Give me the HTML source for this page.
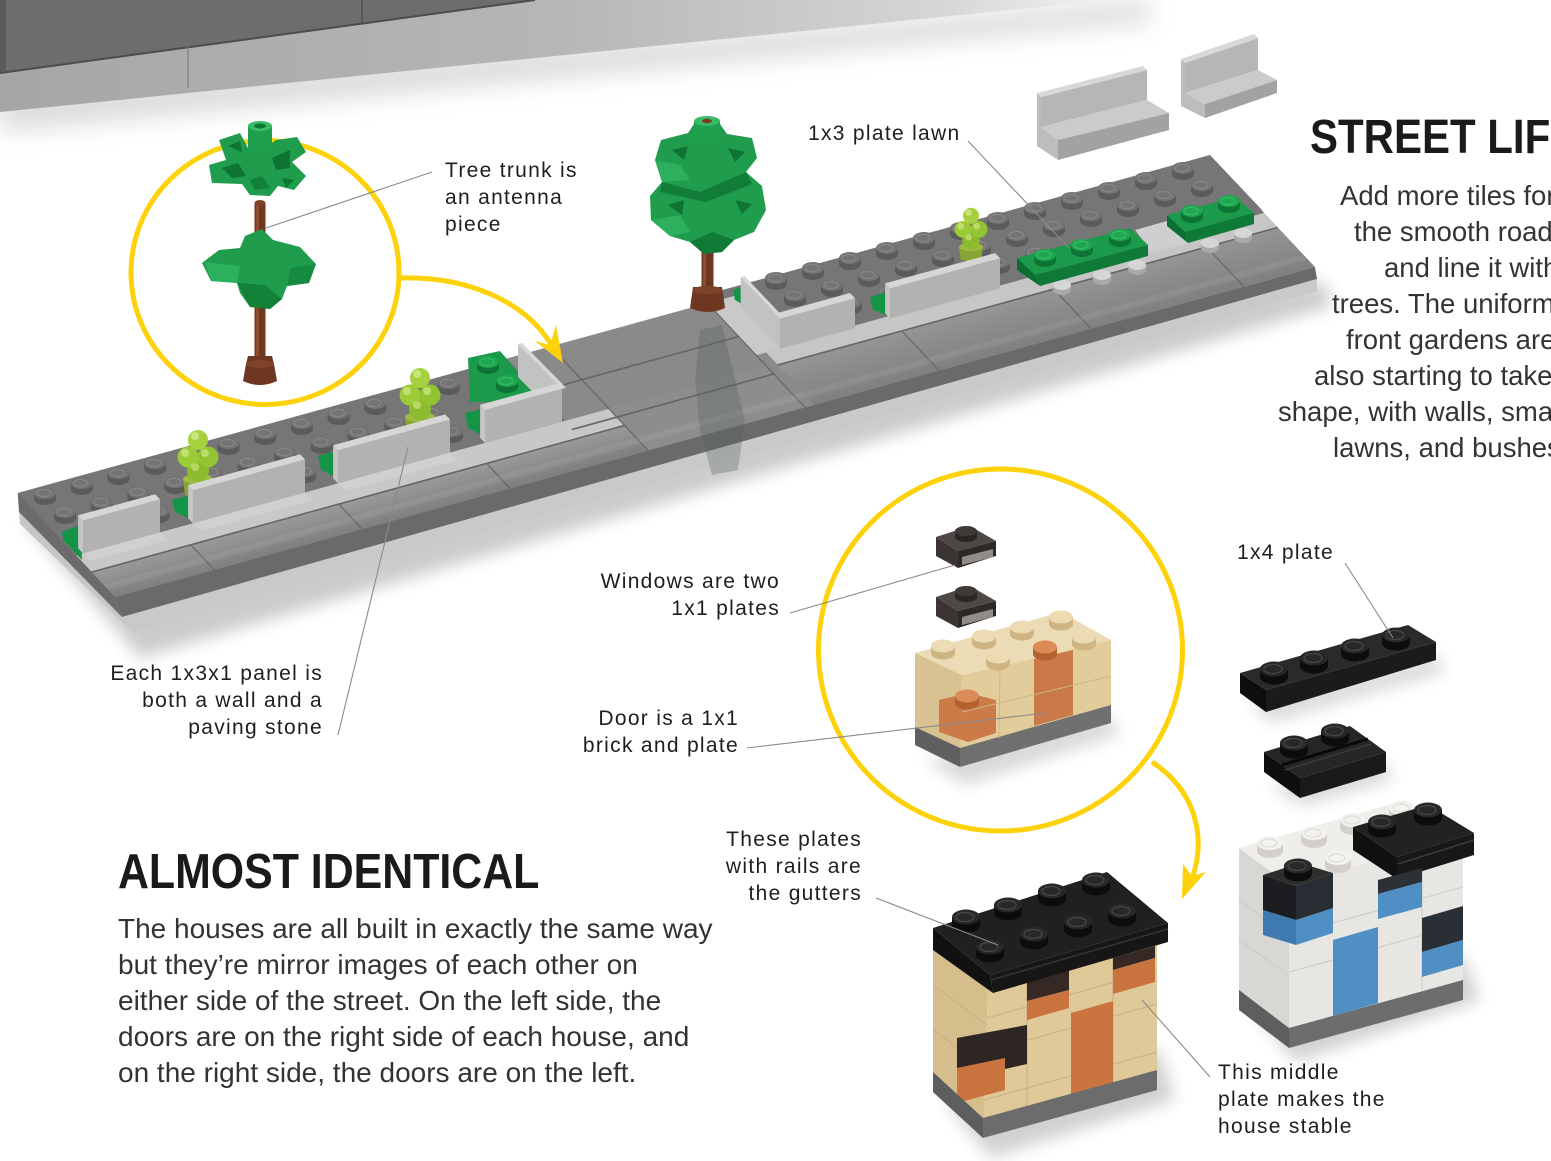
<!DOCTYPE html>
<html><head><meta charset="utf-8"><title>Street Life</title>
<style>
html,body{margin:0;padding:0;background:#fff}
body{width:1551px;height:1161px;overflow:hidden}
svg{display:block}
.l{font-family:"Liberation Sans",Arial,sans-serif;font-size:21px;letter-spacing:1.3px;fill:#1e1e1e}
.p{font-family:"Liberation Sans",Arial,sans-serif;font-size:27.5px;fill:#333}
.q{font-family:"Liberation Sans",Arial,sans-serif;font-size:28px;fill:#333}
.h{font-family:"Liberation Sans",Arial,sans-serif;font-weight:bold;fill:#1a1a1a}
</style></head><body>
<svg width="1551" height="1161" viewBox="0 0 1551 1161">
<defs>
<linearGradient id="topfade" x1="0" y1="0" x2="1" y2="0">
<stop offset="0" stop-color="#a6a6a6"/><stop offset="0.5" stop-color="#b6b6b6"/><stop offset="0.85" stop-color="#d6d6d6"/><stop offset="1" stop-color="#f3f3f3"/>
</linearGradient>
<linearGradient id="tileL" gradientUnits="userSpaceOnUse" x1="0" y1="76" x2="0" y2="100">
<stop offset="0" stop-color="#9a9a9a"/><stop offset="1" stop-color="#7f7f7f"/>
</linearGradient>
<linearGradient id="tileR" gradientUnits="userSpaceOnUse" x1="0" y1="62" x2="0" y2="100">
<stop offset="0" stop-color="#959595"/><stop offset="1" stop-color="#808080"/>
</linearGradient>
<filter id="b8" x="-20%" y="-50%" width="140%" height="200%"><feGaussianBlur stdDeviation="8"/></filter>
<filter id="b12" x="-20%" y="-50%" width="140%" height="200%"><feGaussianBlur stdDeviation="12"/></filter>
<g id="sg"><path d="M-11,0v6a11,6 0 0 0 22,0v-6z" fill="#5b5b5b"/><ellipse rx="11" ry="6" fill="#747474"/><ellipse cx="-1" rx="7" ry="3.6" fill="none" stroke="#878787" stroke-width="1.2"/></g>
<g id="sl"><path d="M-9,0v5a9,5 0 0 0 18,0v-5z" fill="#a9a9a9"/><ellipse rx="9" ry="5" fill="#d6d6d6"/></g>
<g id="sgr"><path d="M-11,0v6a11,6 0 0 0 22,0v-6z" fill="#0d7435"/><ellipse rx="11" ry="6" fill="#1ea550"/><ellipse cx="-1" rx="7" ry="3.6" fill="none" stroke="#33bb66" stroke-width="1.2"/></g>
<g id="sb"><path d="M-14,0v8a14,7.5 0 0 0 28,0v-8z" fill="#0c0c0c"/><ellipse rx="14" ry="7.5" fill="#282828"/><ellipse cx="-1" rx="9" ry="4.5" fill="none" stroke="#474747" stroke-width="1.3"/></g>
<g id="st"><path d="M-12,0v7a12,6.5 0 0 0 24,0v-7z" fill="#cdb482"/><ellipse rx="12" ry="6.5" fill="#eddcb3"/></g>
<g id="sw"><path d="M-13,0v8a13,7 0 0 0 26,0v-8z" fill="#d3d0cb"/><ellipse rx="13" ry="7" fill="#f4f2ef"/><ellipse cx="-1" rx="8" ry="4" fill="none" stroke="#dfdcd7" stroke-width="1.2"/></g>
<g id="so"><path d="M-12,0v7a12,6.5 0 0 0 24,0v-7z" fill="#b2612f"/><ellipse rx="12" ry="6.5" fill="#da8b58"/></g>
<g id="bush">
<rect x="-8" y="62" width="16" height="12" fill="#6b3520"/>
<path d="M-15,50 L15,50 L13,66 Q0,70 -13,66 Z" fill="#86a534"/>
<ellipse cx="0" cy="50" rx="15" ry="5" fill="#9dbb45"/>
<circle cx="0" cy="42" r="11" fill="#8cbc2e"/>
<circle cx="-10" cy="28" r="10.5" fill="#9ccb38"/>
<circle cx="10" cy="28" r="10.5" fill="#92c433"/>
<circle cx="0" cy="11" r="10" fill="#a5d13f"/>
<circle cx="-3" cy="7" r="4" fill="#c9e67a"/>
<circle cx="-13" cy="24" r="4" fill="#c2e070"/>
<circle cx="7" cy="24" r="4" fill="#bddd6a"/>
<circle cx="-3" cy="38" r="4" fill="#b7d864"/>
</g>
</defs>

<!-- top plate band -->
<polygon points="0,95 1150,0 1150,22 0,132" fill="#9a9a9a" opacity="0.35" filter="url(#b12)"/>
<polygon points="0,0 1110,0 0,112" fill="url(#topfade)"/>
<polygon points="0,0 535,0 0,73" fill="#6d6d6d"/>
<line x1="0" y1="73" x2="535" y2="0" stroke="#4c4c4c" stroke-width="2"/>
<line x1="188" y1="47" x2="188" y2="88" stroke="#7e7e7e" stroke-width="1.2"/>
<line x1="362" y1="0" x2="362" y2="24" stroke="#474747" stroke-width="1.2"/>
<rect x="0" y="0" width="6" height="72" fill="#5a5a5a"/>

<!-- floating panels -->
<polygon points="1041,97 1147,70 1147,100 1041,127" fill="#b6b6b6"/>
<polygon points="1041,97 1147,70 1143,66 1037,93" fill="#d8d8d8"/>
<polygon points="1041,127 1147,100 1169,113 1058,140" fill="#cbcbcb"/>
<polygon points="1058,140 1169,113 1169,130 1058,160" fill="#a2a2a2"/>
<polygon points="1037,93 1041,97 1041,127 1058,140 1058,160 1037,146" fill="#bdbdbd"/>
<polygon points="1185,63 1258,38 1258,70 1185,93" fill="#b6b6b6"/>
<polygon points="1185,63 1258,38 1254,34 1181,59" fill="#d8d8d8"/>
<polygon points="1185,93 1258,70 1277,80 1205,104" fill="#cbcbcb"/>
<polygon points="1205,104 1277,80 1277,93 1205,118" fill="#a2a2a2"/>
<polygon points="1181,59 1185,63 1185,93 1205,104 1205,118 1181,106" fill="#bdbdbd"/>

<!-- street slab -->
<polygon points="25,522 1325,282 1332,306 140,658" fill="#000" opacity="0.2" filter="url(#b8)"/>
<polygon points="19,512 122,617 133,632 20,524" fill="#c6c6c6"/>
<polygon points="17.75,493 82,558 115,597 122,617 19,512" fill="#6b6b6b"/>
<polygon points="115,597 1315,267 1317,279 122,617" fill="#6a6a6a"/>
<polygon points="122,617 1317,279 1317,291 133,632" fill="#c9c9c9"/>
<polygon points="17.75,493 1217,163 1315,267 115,597" fill="#8a8a8a"/>
<polygon points="708,294 1210,155 1262,210 760,350" fill="#767676"/>
<g transform="matrix(0.9996 -0.275 0.975 1.04 17.75 493)">
<rect x="0" y="0" width="488" height="60" fill="#767676"/>
<rect x="0" y="60" width="560" height="16" fill="#c8c8c8"/>
<rect x="0" y="76" width="533" height="24" fill="url(#tileL)"/>
<rect x="533" y="60" width="157" height="40" fill="#8d8d8d"/>
<rect x="690" y="0" width="45" height="50" fill="#c9c9c9"/>
<rect x="735" y="0" width="465" height="48" fill="#767676"/>
<rect x="700" y="48" width="500" height="14" fill="#c6c6c6"/>
<rect x="700" y="62" width="500" height="38" fill="url(#tileR)"/>
<path d="M99,76V100M247,76V100M395,76V100M533,0V100M488,32H690M488,68H690M690,0V100M0,76H533M700,62H1200M824,62V100M976,62V100M1129,62V100M488,0V60" stroke="#666" stroke-width="1.3" fill="none"/>
<rect x="0" y="88" width="1200" height="5" fill="#fff" opacity="0.07"/>
</g>
<path d="M700,330 L722,325 L735,380 L745,420 L738,470 L712,475 L700,430 L695,380 Z" fill="#4e5f55" opacity="0.3"/>

<!-- left studs -->
<use href="#sg" x="45" y="493"/><use href="#sg" x="81.7" y="483"/><use href="#sg" x="118.4" y="473"/><use href="#sg" x="155.1" y="463"/><use href="#sg" x="191.8" y="453"/><use href="#sg" x="228.5" y="443"/><use href="#sg" x="265.2" y="433"/><use href="#sg" x="301.9" y="423"/><use href="#sg" x="338.6" y="413"/><use href="#sg" x="375.3" y="403"/><use href="#sg" x="412" y="393"/><use href="#sg" x="448.7" y="383"/>
<use href="#sg" x="65" y="512"/><use href="#sg" x="101.7" y="502"/><use href="#sg" x="138.4" y="492"/><use href="#sg" x="175.1" y="482"/><use href="#sg" x="211.8" y="472"/><use href="#sg" x="248.5" y="462"/><use href="#sg" x="285.2" y="452"/><use href="#sg" x="321.9" y="442"/><use href="#sg" x="358.6" y="432"/><use href="#sg" x="395.3" y="422"/><use href="#sg" x="432" y="412"/>
<use href="#sg" x="85" y="531"/><use href="#sg" x="121.7" y="521"/><use href="#sg" x="158.4" y="511"/><use href="#sg" x="231.8" y="491"/><use href="#sg" x="268.5" y="481"/><use href="#sg" x="305.2" y="471"/><use href="#sg" x="341.9" y="461"/><use href="#sg" x="378.6" y="451"/><use href="#sg" x="452" y="431"/>
<!-- right studs -->
<use href="#sg" x="1183" y="168"/><use href="#sg" x="1146" y="178"/><use href="#sg" x="1109" y="188"/><use href="#sg" x="1072" y="198"/><use href="#sg" x="1035" y="208"/><use href="#sg" x="998" y="218"/><use href="#sg" x="961" y="228"/><use href="#sg" x="924" y="238"/><use href="#sg" x="887" y="248"/><use href="#sg" x="850" y="258"/><use href="#sg" x="813" y="268"/><use href="#sg" x="776" y="278"/>
<use href="#sg" x="1202" y="185"/><use href="#sg" x="1165" y="195"/><use href="#sg" x="1128" y="205"/><use href="#sg" x="1091" y="215"/><use href="#sg" x="1054" y="225"/><use href="#sg" x="1017" y="235"/><use href="#sg" x="980" y="245"/><use href="#sg" x="943" y="255"/><use href="#sg" x="906" y="265"/><use href="#sg" x="869" y="275"/><use href="#sg" x="832" y="285"/><use href="#sg" x="795" y="295"/>
<use href="#sg" x="1036" y="252"/><use href="#sg" x="999" y="262"/><use href="#sg" x="962" y="272"/><use href="#sg" x="925" y="282"/><use href="#sg" x="888" y="292"/><use href="#sg" x="851" y="302"/><use href="#sg" x="814" y="312"/>

<!-- light studs & green plates right -->
<use href="#sl" x="1062" y="285"/><use href="#sl" x="1102" y="275"/><use href="#sl" x="1137" y="265"/><use href="#sl" x="1210" y="243"/><use href="#sl" x="1243" y="233"/>
<polygon points="1135,230 1167,221 1188,243 1152,253" fill="#cfcfcf"/>
<polygon points="1017,258 1130,228 1148,245 1035,275" fill="#1c9a4c"/>
<polygon points="1035,275 1148,245 1148,256 1040,286" fill="#0f7a38"/>
<polygon points="1017,258 1035,275 1040,286 1017,270" fill="#0b6e33"/>
<use href="#sgr" x="1045" y="255"/><use href="#sgr" x="1082" y="245"/><use href="#sgr" x="1120" y="235"/>
<polygon points="1167,215 1236,197 1254,213 1185,232" fill="#1c9a4c"/>
<polygon points="1185,232 1254,213 1254,224 1188,243" fill="#0f7a38"/>
<polygon points="1167,215 1185,232 1188,243 1167,226" fill="#0b6e33"/>
<use href="#sgr" x="1192" y="211"/><use href="#sgr" x="1229" y="201"/>
<!-- green plate left near crossing -->
<polygon points="468,358 500,351 535,392 505,402 470,402" fill="#1c9a4c"/>
<use href="#sgr" x="488" y="362"/><use href="#sgr" x="507" y="381"/>
<!-- green gap tiles -->
<polygon points="62,532 80,525 82,560 63,540" fill="#149447"/>
<polygon points="172,500 190,495 192,520 175,512" fill="#149447"/>
<polygon points="318,456 336,451 338,478 321,470" fill="#149447"/>
<polygon points="465,413 482,409 484,436 468,428" fill="#149447"/>
<polygon points="870,297 887,292 889,316 873,310" fill="#149447"/>
<polygon points="733,290 742,287 744,305 735,300" fill="#149447"/>

<!-- bushes -->
<use href="#bush" transform="translate(198,429)"/>
<use href="#bush" transform="translate(420,367)"/>
<use href="#bush" transform="translate(971,207) scale(0.8)"/>

<!-- walls left -->
<g>
<polygon points="78.1,515.3 83,520.5 83,553.5 78.1,548.3" fill="#c6c6c6"/>
<polygon points="83,520.5 160,499.4 160,532.4 83,553.5" fill="#b2b2b2"/>
<polygon points="83,520.5 160,499.4 155.1,494.2 78.1,515.3" fill="#d6d6d6"/>
<polygon points="83,553.5 160,532.4 168,540 91,561" fill="#d0d0d0"/>
<polygon points="188.1,485.1 193,490.3 193,523.3 188.1,518.1" fill="#c6c6c6"/>
<polygon points="193,490.3 305,459.5 305,492.5 193,523.3" fill="#b2b2b2"/>
<polygon points="193,490.3 305,459.5 300.1,454.3 188.1,485.1" fill="#d6d6d6"/>
<polygon points="193,523.3 305,492.5 313,500 201,531" fill="#d0d0d0"/>
<polygon points="333.1,445.2 338,450.4 338,483.4 333.1,478.2" fill="#c6c6c6"/>
<polygon points="338,450.4 450,419.6 450,452.6 338,483.4" fill="#b2b2b2"/>
<polygon points="338,450.4 450,419.6 445.1,414.4 333.1,445.2" fill="#d6d6d6"/>
<polygon points="338,483.4 450,452.6 458,460 346,491" fill="#d0d0d0"/>
<polygon points="518,344 562,388.8 562,421.8 518,377" fill="#c2c2c2"/>
<polygon points="518,344 562,388.8 566,387.7 522,342.9" fill="#d8d8d8"/>
<polygon points="480.1,404.8 485,410 485,443 480.1,437.8" fill="#c6c6c6"/>
<polygon points="485,410 562,388.8 562,421.8 485,443" fill="#b2b2b2"/>
<polygon points="485,410 562,388.8 557.1,383.6 480.1,404.8" fill="#d6d6d6"/>
</g>
<!-- walls right -->
<g>
<polygon points="740.7,277.2 780,318.8 780,348.8 740.7,307.2" fill="#c2c2c2"/>
<polygon points="740.7,277.2 780,318.8 784,317.7 744.7,276.1" fill="#d8d8d8"/>
<polygon points="780,318.8 855,298.2 855,328.2 780,348.8" fill="#b2b2b2"/>
<polygon points="780,318.8 855,298.2 850.1,293 775.1,313.6" fill="#d6d6d6"/>
<polygon points="885.1,283.3 890,288.5 890,318.5 885.1,313.3" fill="#c6c6c6"/>
<polygon points="890,288.5 1000,258.3 1000,288.3 890,318.5" fill="#b2b2b2"/>
<polygon points="890,288.5 1000,258.3 995.1,253.1 885.1,283.3" fill="#d6d6d6"/>
</g>

<!-- tree 2 -->
<rect x="701.5" y="240" width="12" height="50" fill="#6e3721"/>
<rect x="703" y="240" width="3" height="48" fill="#8d4c2f"/>
<path d="M693,287 L722,287 L725,308 Q708,316 690,308 Z" fill="#6e3721"/>
<ellipse cx="707.5" cy="290" rx="15" ry="4" fill="#7f432a"/>
<path d="M661,140 L688,133 L694,124 L720,124 L727,134 L752,138 L757,158 L746,172 L762,186 L766,210 L754,232 L734,240 L722,252 L704,254 L690,242 L670,236 L651,220 L650,196 L662,182 L655,160 Z" fill="#1f9c4c"/>
<path d="M662,182 L700,192 L746,172 L752,184 L706,202 L660,192 Z" fill="#127d39"/>
<path d="M690,242 L704,254 L722,252 L734,240 L712,232 Z" fill="#117a36"/>
<path d="M655,160 L680,165 L690,180 L662,182 Z" fill="#2cb05d"/>
<path d="M651,220 L680,215 L690,232 L670,236 Z" fill="#2cb05d"/>
<path d="M672,150 L688,146 L684,160 Z M728,148 L745,152 L735,162 Z M668,205 L684,200 L682,215 Z M735,200 L752,204 L742,214 Z" fill="#0f7333"/>
<rect x="694" y="121" width="26" height="22" fill="#1fa04f"/>
<ellipse cx="707" cy="121" rx="13" ry="5" fill="#37bd66"/>
<ellipse cx="707" cy="121" rx="5" ry="2.2" fill="#7a3a20"/>

<!-- yellow circle 1 + arrow -->
<ellipse cx="265" cy="272.5" rx="134" ry="132" fill="none" stroke="#fdd20a" stroke-width="5"/>
<path d="M400,278 C465,276 525,300 552,346" fill="none" stroke="#fdd20a" stroke-width="5"/>
<polygon points="563,363 535,341 550,345 556,325" fill="#fdd20a"/>

<!-- tree 1 -->
<rect x="254.5" y="203" width="11" height="160" fill="#6e3721"/>
<rect x="256" y="205" width="3" height="155" fill="#8d4c2f"/>
<ellipse cx="260" cy="203" rx="5.5" ry="3" fill="#7e4128"/>
<path d="M248,356 L272,356 L274,364 L277,381 Q260,389 243,381 L246,364 Z" fill="#6e3721"/>
<ellipse cx="260" cy="364" rx="14" ry="4" fill="#7f432a"/>
<path d="M245,236 L262,229 L273,240 L300,247 L316,264 L309,283 L287,286 L282,299 L270,309 L250,307 L240,293 L237,283 L211,281 L202,263 L219,250 L240,248 Z" fill="#1f9c4c"/>
<path d="M237,283 L250,307 L270,309 L282,299 L265,285 Z" fill="#138238"/>
<path d="M211,281 L237,283 L240,266 L205,262 Z" fill="#2bb15e"/>
<path d="M287,286 L309,283 L316,264 L290,268 Z" fill="#168a3f"/>
<path d="M219,140 L240,133 L248,148 L262,150 L276,140 L297,137 L306,152 L292,162 L306,176 L294,190 L278,186 L270,196 L250,195 L242,184 L212,183 L209,165 L226,160 Z" fill="#1f9c4c"/>
<path d="M222,168 L238,163 L246,176 L232,178 Z" fill="#0f7333"/>
<path d="M272,158 L290,150 L290,168 L276,170 Z" fill="#0f7333"/>
<path d="M250,180 L262,176 L270,188 L255,190 Z" fill="#127f3a"/>
<path d="M228,146 L240,141 L242,152 Z M282,178 L294,180 L286,188 Z" fill="#0f7333"/>
<rect x="248" y="126" width="24" height="26" fill="#1fa04f"/>
<ellipse cx="260" cy="126" rx="12" ry="5" fill="#37bd66"/>
<ellipse cx="260" cy="126" rx="6" ry="2.5" fill="#0f7534"/>

<!-- yellow circle 2 + arrow -->
<ellipse cx="1000.5" cy="650" rx="182" ry="181" fill="none" stroke="#fdd20a" stroke-width="5"/>
<path d="M1152,762 C1195,790 1206,835 1193,876" fill="none" stroke="#fdd20a" stroke-width="5"/>
<polygon points="1182,899 1183,864 1192,876 1206,872" fill="#fdd20a"/>

<!-- small trans-black plates -->
<g>
<polygon points="936,537 958,551 958,568 936,556" fill="#3a3533"/>
<polygon points="958,551 996,541 996,556 958,568" fill="#2d2928"/>
<polygon points="962,557 993,549 993,557 962,565" fill="#aaa59f" opacity="0.8"/>
<polygon points="936,537 970,526 996,541 958,551" fill="#4d4745"/>
<path d="M955,531v6a11,5 0 0 0 22,0v-6z" fill="#2a2625"/><ellipse cx="966" cy="531" rx="11" ry="5" fill="#3f3a38"/>
</g>
<g transform="translate(0,60)">
<polygon points="936,537 958,551 958,568 936,556" fill="#3a3533"/>
<polygon points="958,551 996,541 996,556 958,568" fill="#2d2928"/>
<polygon points="962,557 993,549 993,557 962,565" fill="#aaa59f" opacity="0.8"/>
<polygon points="936,537 970,526 996,541 958,551" fill="#4d4745"/>
<path d="M955,531v6a11,5 0 0 0 22,0v-6z" fill="#2a2625"/><ellipse cx="966" cy="531" rx="11" ry="5" fill="#3f3a38"/>
</g>

<!-- tan assembly -->
<polygon points="925,760 1110,715 1120,735 965,785" fill="#000" opacity="0.15" filter="url(#b8)"/>
<polygon points="915,653 962,675 960,767 915,745" fill="#d9c291"/>
<polygon points="962,675 1111,640 1111,723 960,767" fill="#e2cc9c"/>
<polygon points="915,653 1061,612 1111,640 962,675" fill="#ecdcb5"/>
<polygon points="1034,659 1073,650 1073,715 1034,726" fill="#c97a48"/>
<polygon points="939,700 968,693 996,700 996,733 968,742 939,732" fill="#cc7a48"/>
<polygon points="915,727 960,748 960,767 915,745" fill="#5f5f5f"/>
<polygon points="960,748 1111,705 1111,723 960,767" fill="#707070"/>
<line x1="962" y1="712" x2="1111" y2="676" stroke="#cdb687" stroke-width="1"/>
<line x1="1000" y1="666" x2="999" y2="738" stroke="#cdb687" stroke-width="1"/>
<use href="#st" x="943" y="646"/><use href="#st" x="984" y="636"/><use href="#st" x="1022" y="627"/><use href="#st" x="1061" y="617"/>
<use href="#st" x="998" y="657"/><use href="#so" x="1045" y="647"/><use href="#st" x="1084" y="637"/>
<use href="#so" x="967" y="696"/>

<!-- 1x4 black plate -->
<polygon points="1250,705 1436,655 1445,672 1272,722" fill="#000" opacity="0.15" filter="url(#b8)"/>
<polygon points="1240,673 1266,690 1266,712 1240,693" fill="#0e0e0e"/>
<polygon points="1266,690 1436,642 1436,660 1266,712" fill="#1b1b1b"/>
<polygon points="1240,673 1408,625 1436,642 1266,690" fill="#2a2a2a"/>
<use href="#sb" x="1274" y="669"/><use href="#sb" x="1314" y="658"/><use href="#sb" x="1355" y="646"/><use href="#sb" x="1396" y="635"/>

<!-- 1x2 rail plate -->
<polygon points="1270,785 1386,760 1392,780 1302,806" fill="#000" opacity="0.15" filter="url(#b8)"/>
<polygon points="1264,752 1300,778 1300,798 1264,772" fill="#0e0e0e"/>
<polygon points="1300,778 1386,752 1386,772 1300,798" fill="#1a1a1a"/>
<polygon points="1264,752 1350,726 1386,752 1300,778" fill="#262626"/>
<line x1="1282" y1="765" x2="1368" y2="739" stroke="#080808" stroke-width="3"/>
<line x1="1285" y1="770" x2="1371" y2="744" stroke="#3a3a3a" stroke-width="1.5"/>
<use href="#sb" x="1294" y="743"/><use href="#sb" x="1335" y="731"/>

<!-- tan house -->
<polygon points="945,1100 1160,1050 1175,1100 990,1158" fill="#000" opacity="0.18" filter="url(#b8)"/>
<polygon points="933,945 988,985 983,1138 933,1092" fill="#d5bd8c"/>
<polygon points="988,985 1157,937 1157,1090 983,1138" fill="#e0c998"/>
<g stroke="#c6b080" stroke-width="1" fill="none">
<path d="M987,1018 L1157,970 M985,1052 L1157,1004 M984,1100 L1157,1052 M933,985 L987,1025 M933,1030 L985,1068"/>
<path d="M1027,980 L1027,1110 M1113,950 L1113,1085"/>
</g>
<polygon points="1027,977 1069,966 1069,990 1027,1001" fill="#362824"/>
<polygon points="1027,1001 1069,990 1069,1008 1027,1020" fill="#c9743f"/>
<polygon points="1113,958 1155,946 1155,958 1113,970" fill="#362824"/>
<polygon points="1113,970 1155,958 1155,982 1113,994" fill="#c9743f"/>
<polygon points="1071,1013 1113,1001 1113,1083 1071,1095" fill="#c9743f"/>
<polygon points="957,1038 1027,1025 1027,1064 957,1080" fill="#2e2624"/>
<polygon points="957,1068 1005,1058 1005,1090 957,1103" fill="#c9743f"/>
<polygon points="933,1072 983,1118 983,1138 933,1092" fill="#5e5e5e"/>
<polygon points="983,1118 1157,1070 1157,1090 983,1138" fill="#6c6c6c"/>
<polygon points="933,928 990,975 993,993 933,950" fill="#111"/>
<polygon points="933,928 1107,872 1168,923 990,975" fill="#202020"/>
<polygon points="990,975 1168,923 1168,942 993,993" fill="#161616"/>
<line x1="991" y1="980" x2="1168" y2="929" stroke="#333" stroke-width="1.5"/>
<use href="#sb" x="966" y="917"/><use href="#sb" x="1008" y="905"/><use href="#sb" x="1052" y="891"/><use href="#sb" x="1096" y="880"/>
<use href="#sb" x="990" y="947"/><use href="#sb" x="1034" y="934"/><use href="#sb" x="1078" y="922"/><use href="#sb" x="1122" y="911"/>

<!-- white house -->
<polygon points="1250,1005 1463,955 1480,1000 1295,1062" fill="#000" opacity="0.18" filter="url(#b8)"/>
<polygon points="1239,848 1289,885 1289,1048 1239,1010" fill="#d9d7d3"/>
<polygon points="1289,885 1463,835 1463,1000 1289,1048" fill="#e8e6e3"/>
<polygon points="1239,848 1405,800 1463,835 1289,885" fill="#f0eeeb"/>
<g stroke="#cdcac5" stroke-width="1" fill="none">
<path d="M1289,935 L1463,887 M1289,972 L1463,924 M1239,900 L1289,937 M1239,940 L1289,975 M1422,870 L1422,990"/>
</g>
<use href="#sw" x="1270" y="843"/><use href="#sw" x="1314" y="833"/><use href="#sw" x="1353" y="820"/><use href="#sw" x="1402" y="808"/><use href="#sw" x="1338" y="858"/>
<polygon points="1353,827 1397,857 1397,879 1353,850" fill="#111"/>
<polygon points="1353,827 1428,805 1474,833 1397,857" fill="#222"/>
<polygon points="1397,857 1474,833 1474,855 1397,879" fill="#181818"/>
<line x1="1398" y1="864" x2="1474" y2="840" stroke="#3a3a3a" stroke-width="1.5"/>
<use href="#sb" x="1382" y="822"/><use href="#sb" x="1428" y="810"/>
<polygon points="1378,880 1422,868 1422,882 1378,894" fill="#2c3138"/>
<polygon points="1378,894 1422,882 1422,907 1378,919" fill="#4f8fc4"/>
<polygon points="1263,910 1296,920 1296,945 1263,935" fill="#3f7bb0"/>
<polygon points="1296,920 1333,908 1333,933 1296,945" fill="#4f8fc4"/>
<polygon points="1263,875 1296,886 1296,920 1263,910" fill="#1b1d21"/>
<polygon points="1296,886 1333,873 1333,908 1296,920" fill="#282c33"/>
<polygon points="1263,875 1300,863 1333,873 1296,886" fill="#2e2e2e"/>
<use href="#sb" x="1298" y="866"/>
<polygon points="1333,940 1378,927 1378,1003 1333,1016" fill="#4f8fc4"/>
<polygon points="1422,918 1463,906 1463,940 1422,952" fill="#2a2f36"/>
<polygon points="1422,952 1463,940 1463,965 1422,977" fill="#4f8fc4"/>
<polygon points="1239,990 1289,1028 1289,1048 1239,1010" fill="#5e5e5e"/>
<polygon points="1289,1028 1463,980 1463,1000 1289,1048" fill="#6d6d6d"/>

<!-- leader lines -->
<g stroke="#8a8a8a" stroke-width="1.1">
<line x1="432" y1="172" x2="266" y2="228"/>
<line x1="968" y1="141" x2="1069" y2="248"/>
<line x1="790" y1="613" x2="955" y2="565"/>
<line x1="338" y1="735" x2="408" y2="447"/>
<line x1="747" y1="748" x2="1045" y2="713"/>
<line x1="1345" y1="563" x2="1393" y2="638"/>
<line x1="876" y1="898" x2="998" y2="945"/>
<line x1="1210" y1="1077" x2="1142" y2="1000"/>
</g>

<!-- labels -->
<text class="l" x="445" y="177">Tree trunk is</text>
<text class="l" x="445" y="204">an antenna</text>
<text class="l" x="445" y="231">piece</text>
<text class="l" x="808" y="140">1x3 plate lawn</text>
<text class="l" x="780" y="588" text-anchor="end">Windows are two</text>
<text class="l" x="780" y="615" text-anchor="end">1x1 plates</text>
<text class="l" x="323" y="680" text-anchor="end">Each 1x3x1 panel is</text>
<text class="l" x="323" y="707" text-anchor="end">both a wall and a</text>
<text class="l" x="323" y="734" text-anchor="end">paving stone</text>
<text class="l" x="739" y="725" text-anchor="end">Door is a 1x1</text>
<text class="l" x="739" y="752" text-anchor="end">brick and plate</text>
<text class="l" x="1237" y="559">1x4 plate</text>
<text class="l" x="862" y="846" text-anchor="end">These plates</text>
<text class="l" x="862" y="873" text-anchor="end">with rails are</text>
<text class="l" x="862" y="900" text-anchor="end">the gutters</text>
<text class="l" x="1218" y="1079">This middle</text>
<text class="l" x="1218" y="1106">plate makes the</text>
<text class="l" x="1218" y="1133">house stable</text>

<!-- headings -->
<text class="h" x="1310" y="153" font-size="48" transform="translate(1310,0) scale(0.875,1) translate(-1310,0)">STREET LIFE</text>
<text class="h" x="118" y="888" font-size="49" transform="translate(118,0) scale(0.875,1) translate(-118,0)">ALMOST IDENTICAL</text>

<!-- right paragraph -->
<text class="p" x="1340" y="205">Add more tiles for</text>
<text class="p" x="1354" y="241">the smooth road,</text>
<text class="p" x="1384" y="277">and line it with</text>
<text class="p" x="1332" y="313">trees. The uniform</text>
<text class="p" x="1346" y="349">front gardens are</text>
<text class="p" x="1314" y="385">also starting to take</text>
<text class="p" x="1278" y="421">shape, with walls, small</text>
<text class="p" x="1333" y="457">lawns, and bushes.</text>

<!-- bottom paragraph -->
<text class="q" x="118" y="938">The houses are all built in exactly the same way</text>
<text class="q" x="118" y="974">but they’re mirror images of each other on</text>
<text class="q" x="118" y="1010">either side of the street. On the left side, the</text>
<text class="q" x="118" y="1046">doors are on the right side of each house, and</text>
<text class="q" x="118" y="1082">on the right side, the doors are on the left.</text>
</svg>
</body></html>
